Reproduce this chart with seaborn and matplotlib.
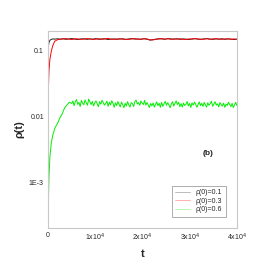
import numpy as np
import pandas as pd
import matplotlib
matplotlib.use("Agg")
import matplotlib.pyplot as plt
import seaborn as sns

# --- data (rho(t) vs t) ---
labels = ["ρ(0)=0.1", "ρ(0)=0.3", "ρ(0)=0.6"]
colors = ["#202020", "#ff0000", "#00ee00"]

# early transient (t, value)
t_early_black = [0, 100, 200, 400, 700, 1000, 1500, 2000]
v_early_black = [0.100, 0.120, 0.135, 0.145, 0.150, 0.152, 0.151, 0.153]

t_early_red = [0, 100, 200, 400, 700, 1000, 1400, 2000]
v_early_red = [0.012, 0.030, 0.050, 0.075, 0.100, 0.120, 0.140, 0.148]

t_early_green = [0, 100, 200, 400, 700, 1000, 1500, 2000, 2500, 3000, 3500, 4000, 4500]
v_early_green = [0.00015, 0.0006, 0.0012, 0.0025, 0.0040, 0.0052, 0.0068, 0.0078,
                 0.0095, 0.0110, 0.0135, 0.0150, 0.0165]

# plateau values (units of 1e-3)
black_plateau = [151, 153, 150, 152, 154, 151, 149, 152, 153, 150,
                 152, 151, 154, 150, 152, 153, 149, 151, 152, 150,
                 153, 151, 150, 152, 154, 151, 152, 150, 153, 151,
                 146, 148, 151, 153, 152, 150, 154, 152, 151, 153,
                 150, 152, 151, 149, 152, 153, 151, 150, 152, 154,
                 151, 150, 152, 151, 153, 150, 152, 151, 149, 151]
red_plateau = [150, 152, 154, 151, 149, 153, 152, 150, 151, 154,
               152, 149, 151, 153, 150, 152, 155, 151, 150, 152,
               151, 153, 149, 150, 152, 154, 150, 151, 153, 152,
               147, 147, 150, 152, 154, 151, 153, 150, 152, 151,
               153, 150, 149, 152, 151, 154, 152, 150, 151, 153,
               150, 152, 154, 151, 150, 152, 153, 150, 152, 150]
green_plateau = [15.8, 17.2, 14.6, 16.9, 18.1, 15.3, 16.4, 14.2, 17.6, 16.0,
                 15.1, 17.9, 16.3, 14.8, 18.4, 16.7, 15.2, 17.0, 14.5, 16.1,
                 17.3, 15.6, 14.1, 16.8, 15.4, 17.7, 16.2, 14.9, 15.8, 17.1,
                 14.3, 16.5, 15.0, 17.4, 15.9, 13.8, 16.2, 14.7, 16.9, 15.3,
                 14.0, 16.6, 15.2, 13.6, 15.9, 14.4, 16.8, 15.1, 13.9, 16.3,
                 15.7, 14.2, 16.9, 17.8, 15.5, 16.4, 14.8, 17.2, 16.0, 15.2,
                 17.6, 14.9, 16.3, 15.0, 13.7, 15.8, 14.5, 16.1, 13.9, 15.3,
                 16.7, 14.6, 15.9, 13.8, 16.4, 14.3, 15.6, 17.0, 14.8, 16.2,
                 15.1, 13.6, 15.5, 16.8, 14.4, 15.9, 17.3, 15.2, 16.5, 14.1,
                 15.7, 13.9, 16.0, 14.7, 15.3, 16.9, 14.5, 15.8, 13.7, 16.1,
                 14.9, 16.6, 15.4, 13.8, 15.2, 16.7, 14.6, 15.9, 14.2, 16.4,
                 15.0, 13.9, 16.2, 14.8, 15.7, 17.1, 14.3, 15.5, 16.8, 14.9,
                 15.6, 14.0, 16.3, 15.1, 14.4, 16.0, 13.8, 15.4, 14.7, 16.5,
                 15.2, 14.1, 15.9, 13.7, 15.0, 16.4, 14.6]

xticks = [0, 10000, 20000, 30000, 40000]
xticklabels = ["0", "1x10$^4$", "2x10$^4$", "3x10$^4$", "4x10$^4$"]
yticks = [1e-3, 1e-2, 1e-1]
yticklabels = ["1E-3", "0.01", "0.1"]


def build(t_early, v_early, plateau, t_start):
    t_pl = np.linspace(t_start, 40000, len(plateau))
    t = np.concatenate([t_early, t_pl])
    v = np.concatenate([v_early, np.array(plateau) * 1e-3])
    return t, v


series = [
    build(t_early_black, v_early_black, black_plateau, 2500),
    build(t_early_red, v_early_red, red_plateau, 2500),
    build(t_early_green, v_early_green, green_plateau, 5000),
]

frames = []
for (t, v), lab in zip(series, labels):
    frames.append(pd.DataFrame({"t": t, "rho": v, "series": lab}))
df = pd.concat(frames, ignore_index=True)

sns.set_style("white")
plt.rcParams["font.family"] = ["Liberation Sans", "DejaVu Sans"]

fig = plt.figure(figsize=(2.73, 2.73), dpi=100)
ax = fig.add_axes([0.176, 0.165, 0.692, 0.721])

sns.lineplot(data=df, x="t", y="rho", hue="series", hue_order=labels,
             palette=colors, linewidth=0.7, ax=ax, sort=False,
             estimator=None)

ax.set_yscale("log")
ax.set_xlim(0, 40000)
ax.set_ylim(2.0e-4, 0.2)
ax.set_xticks(xticks)
ax.set_xticklabels(xticklabels)
ax.set_xticks([5000, 15000, 25000, 35000], minor=True)
ax.set_yticks(yticks)
ax.set_yticklabels(yticklabels)
ax.tick_params(axis="both", which="both", direction="in", labelsize=5,
               color="#555555", pad=3)
ax.tick_params(axis="both", which="major", length=3, width=0.6)
ax.tick_params(axis="both", which="minor", length=1.5, width=0.5)
ax.tick_params(axis="y", which="minor", labelleft=False)

for s in ax.spines.values():
    s.set_color("#c8c8c8")
    s.set_linewidth(0.8)

ax.set_xlabel("t", fontsize=8, fontweight="bold", labelpad=4)
ax.set_ylabel("ρ(t)", fontsize=8, fontweight="bold", labelpad=3)

ax.text(0.845, 0.38, "(b)", transform=ax.transAxes, fontsize=6,
        fontweight="bold", ha="center", va="center")

leg = ax.legend(loc="lower right", fontsize=5, frameon=True,
                handlelength=2.2, borderpad=0.5, labelspacing=0.2,
                bbox_to_anchor=(0.96, 0.04), fancybox=False)
leg.get_frame().set_edgecolor("#888888")
leg.get_frame().set_linewidth(0.6)
for line in leg.get_lines():
    line.set_linewidth(0.6)
    line.set_alpha(0.35)

fig.savefig("out.png", dpi=100)
